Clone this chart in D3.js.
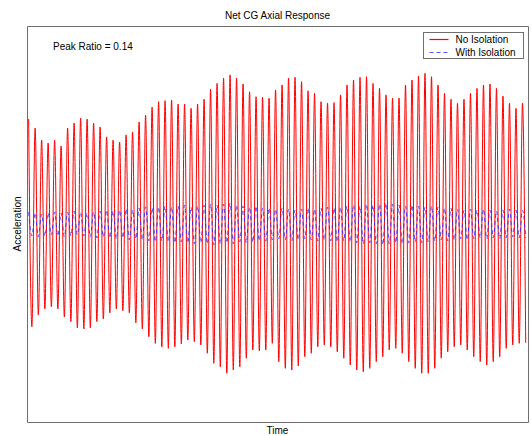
<!DOCTYPE html>
<html>
<head>
<meta charset="utf-8">
<script src="https://cdn.jsdelivr.net/npm/d3@7"></script>
<style>
  body { margin: 0; background: #fff; }
  text { font-family: "Liberation Sans", Arial, Helvetica, sans-serif; fill: #000; }
</style>
</head>
<body>
<div id="chart"></div>
<script>
// peak values per cycle (no tick labels on the original)
const redTops = [
  5.3, 4.85, 4.24, 4.09, 4.24, 3.94, 4.85, 5.1, 5.35, 5.3, 5.1, 4.9, 4.4, 4.24, 4.14, 4.5, 4.65, 5.15, 5.5, 5.9,
  6.18, 6.23, 6.26, 6.06, 6.06, 5.84, 6.06, 6.3, 6.8, 7.1, 7.36, 7.53, 7.36, 7.07, 6.68, 6.43, 6.4, 6.35, 6.77,
  7.02, 7.36, 7.41, 7.19, 6.73, 6.6, 6.18, 6.1, 6.13, 6.52, 7.02, 7.27, 7.41, 7.44, 7.1, 6.85, 6.52, 6.35, 6.36,
  7.02, 7.27, 7.47, 7.61, 7.44, 7.02, 6.6, 6.3, 6.1, 6.3, 6.6, 6.85, 7.02, 7.07, 6.85, 6.46, 6.1, 5.84, 6.1
];
const redBottoms = [
  -5.19, -4.6, -4.29, -4.18, -4.29, -4.7, -4.93, -5.25, -5.3, -5.25, -4.93, -4.8, -4.49, -4.29, -4.38, -4.49, -4.99, -5.3, -5.69,
  -6.03, -6.2, -6.28, -6.2, -6.06, -5.86, -5.94, -6.11, -6.53, -7.04, -7.21, -7.54, -7.37, -7.21, -6.78, -6.36, -6.4, -6.36, -6.03,
  -6.95, -7.29, -7.37, -7.17, -6.7, -6.53, -6.2, -6.11, -6.2, -6.45, -6.78, -7.12, -7.37, -7.46, -7.29, -6.95, -6.7, -6.36, -6.28,
  -6.53, -6.95, -7.29, -7.54, -7.54, -7.29, -6.78, -6.45, -6.2, -6.11, -6.36, -6.7, -6.95, -7.12, -6.95, -6.7, -6.28, -6.11, -6.03,
  -6.0
];
const blueTops = [
  0.6, 0.55, 0.5, 0.55, 0.6, 0.55, 0.6, 0.65, 0.6, 0.55, 0.6, 0.65,
  0.7, 0.65, 0.7, 0.75, 0.7, 0.8, 0.85, 0.8,
  0.85, 0.9, 0.85, 0.9, 0.95, 0.85, 0.9, 0.95, 1.0, 0.95, 1.0, 1.05, 0.95, 0.9, 0.85, 0.9, 0.8,
  0.8, 0.75, 0.8, 0.75, 0.7, 0.75, 0.8, 0.75, 0.8, 0.85, 0.8, 0.85,
  0.9, 0.95, 0.9, 1.0, 0.95, 1.0, 1.05, 1.0, 0.95, 0.9, 0.95, 0.9, 0.85, 0.9, 0.85, 0.8, 0.8,
  0.75, 0.7, 0.75, 0.7, 0.75, 0.7, 0.65, 0.7, 0.75, 0.7, 0.7
];
const blueBottoms = [
  -0.6, -0.65, -0.6, -0.55, -0.6, -0.65, -0.6, -0.55, -0.6, -0.65, -0.7, -0.65,
  -0.7, -0.75, -0.7, -0.8, -0.75, -0.8, -0.85, -0.9,
  -0.85, -0.9, -0.95, -0.9, -0.95, -1.0, -0.95, -1.0, -1.05, -1.0, -0.95, -1.0, -0.9, -0.95, -0.9, -0.85, -0.85,
  -0.8, -0.75, -0.8, -0.85, -0.8, -0.75, -0.8, -0.85, -0.8, -0.85, -0.9, -0.85,
  -0.9, -0.95, -1.0, -0.95, -1.0, -1.05, -1.0, -0.95, -1.0, -0.95, -0.9, -0.95, -0.9, -0.85, -0.8, -0.85, -0.8,
  -0.75, -0.8, -0.75, -0.7, -0.75, -0.7, -0.75, -0.7, -0.65, -0.7, -0.7
];
const seriesNames = ["No Isolation", "With Isolation"];
const peakRatio = 0.14;
// time in cycles: top peak i sits at i + 0.25, bottom peak at i + 0.75
const timeDomain = [0, 77.1];
const accelDomain = [-10, 10];

const width = 532, height = 436;
const m = { left: 27, right: 528, top: 26, bottom: 422 };

const svg = d3.select("#chart").append("svg")
    .attr("width", width)
    .attr("height", height);

const x = d3.scaleLinear().domain(timeDomain).range([m.left, m.right]);
const y = d3.scaleLinear().domain(accelDomain).range([m.bottom, m.top]);

function zigzag(tops, bottoms) {
    const pts = [];
    tops.forEach((v, i) => {
        pts.push([i + 0.25, v]);
        if (i < bottoms.length) pts.push([i + 0.75, bottoms[i]]);
    });
    return pts.filter(p => p[0] <= timeDomain[1]);
}

svg.append("clipPath").attr("id", "clip")
  .append("rect")
    .attr("x", m.left).attr("y", m.top)
    .attr("width", m.right - m.left).attr("height", m.bottom - m.top);

const line = d3.line()
    .x(d => x(d[0]))
    .y(d => y(d[1]))
    .curve(d3.curveMonotoneX);

const plot = svg.append("g").attr("clip-path", "url(#clip)");

const styles = [
    { stroke: "#ff0000", dash: null, opacity: 1 },
    { stroke: "#2626ff", dash: "4,3", opacity: 0.8 }
];

plot.append("path")
    .datum(zigzag(redTops, redBottoms))
    .attr("fill", "none")
    .attr("stroke", styles[0].stroke)
    .attr("stroke-width", 1)
    .attr("d", line);

plot.append("path")
    .datum(zigzag(blueTops, blueBottoms))
    .attr("fill", "none")
    .attr("stroke", styles[1].stroke)
    .attr("stroke-opacity", styles[1].opacity)
    .attr("stroke-width", 1)
    .attr("stroke-dasharray", styles[1].dash)
    .attr("d", line);

// box, no ticks
const frameColor = "#6e6e6e";
[
  [d3.axisBottom(x), `translate(0,${m.bottom})`],
  [d3.axisTop(x), `translate(0,${m.top})`],
  [d3.axisLeft(y), `translate(${m.left},0)`],
  [d3.axisRight(y), `translate(${m.right},0)`]
].forEach(([ax, tr]) => {
    const g = svg.append("g")
        .attr("transform", tr)
        .call(ax.tickValues([]).tickSizeOuter(0));
    g.select(".domain").attr("stroke", frameColor);
});

svg.append("text")
    .attr("x", (m.left + m.right) / 2)
    .attr("y", 19)
    .attr("text-anchor", "middle")
    .attr("font-size", 10)
    .text("Net CG Axial Response");

svg.append("text")
    .attr("x", (m.left + m.right) / 2)
    .attr("y", 434)
    .attr("text-anchor", "middle")
    .attr("font-size", 10)
    .text("Time");

svg.append("text")
    .attr("transform", `translate(21,${(m.top + m.bottom) / 2}) rotate(-90)`)
    .attr("text-anchor", "middle")
    .attr("font-size", 10)
    .text("Acceleration");

svg.append("text")
    .attr("x", 53)
    .attr("y", 50)
    .attr("font-size", 10)
    .text("Peak Ratio = " + peakRatio.toFixed(2));

// legend
const legend = svg.append("g").attr("transform", "translate(423.5,32.5)");
legend.append("rect")
    .attr("width", 100)
    .attr("height", 26)
    .attr("fill", "#fff")
    .attr("stroke", frameColor);

seriesNames.forEach((name, i) => {
    const row = legend.append("g").attr("transform", `translate(0,${7 + i * 13})`);
    row.append("line")
        .attr("x1", 6).attr("x2", 25)
        .attr("y1", 0).attr("y2", 0)
        .attr("stroke", styles[i].stroke)
        .attr("stroke-opacity", styles[i].opacity)
        .attr("stroke-width", 1.2)
        .attr("stroke-dasharray", styles[i].dash);
    row.append("text")
        .attr("x", 32)
        .attr("y", 3.5)
        .attr("font-size", 10)
        .text(name);
});
</script>
</body>
</html>
